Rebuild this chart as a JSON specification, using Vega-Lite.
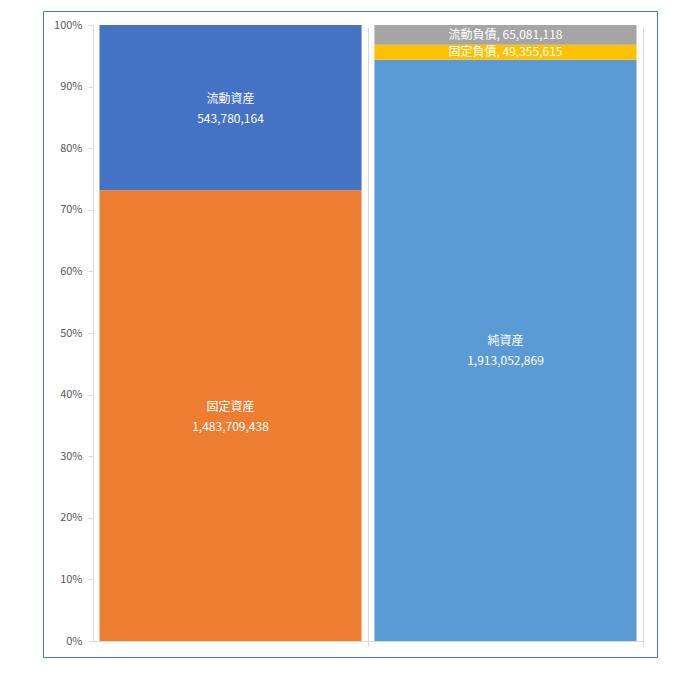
{
  "$schema": "https://vega.github.io/schema/vega-lite/v6.json",
  "width": 614,
  "height": 646,
  "autosize": {"type": "none"},
  "padding": {"left": 43, "top": 11, "right": 19, "bottom": 19},
  "background": "white",
  "config": {
    "view": {"stroke": "#4a76c6", "strokeWidth": 1},
    "font": "Noto Sans CJK JP"
  },
  "data": {
    "values": [
      {"side": "資産", "item": "固定資産", "value": 1483709438, "label": "固定資産\n1,483,709,438"},
      {"side": "資産", "item": "流動資産", "value": 543780164, "label": "流動資産\n543,780,164"},
      {"side": "負債・純資産", "item": "純資産", "value": 1913052869, "label": "純資産\n1,913,052,869"},
      {"side": "負債・純資産", "item": "固定負債", "value": 49355615, "label": "固定負債, 49,355,615"},
      {"side": "負債・純資産", "item": "流動負債", "value": 65081118, "label": "流動負債, 65,081,118"}
    ]
  },
  "transform": [
    {"window": [{"op": "row_number", "as": "rowIndex"}]}
  ],
  "encoding": {
    "x": {
      "field": "side",
      "type": "nominal",
      "sort": ["資産", "負債・純資産"],
      "scale": {"range": [50, 600], "paddingInner": 0, "paddingOuter": 0},
      "axis": {
        "title": null,
        "labels": false,
        "ticks": true,
        "tickSize": 5,
        "tickColor": "#d9d9d9",
        "domain": true,
        "domainColor": "#d9d9d9",
        "grid": true,
        "gridColor": "#d9d9d9",
        "bandPosition": 1,
        "offset": -16
      }
    },
    "y": {
      "field": "value",
      "type": "quantitative",
      "stack": "normalize",
      "scale": {"domain": [0, 1], "range": [630, 14], "nice": false},
      "axis": {
        "title": null,
        "format": ".0%",
        "values": [0, 0.1, 0.2, 0.3, 0.4, 0.5, 0.6, 0.7, 0.8, 0.9, 1],
        "grid": false,
        "offset": -50,
        "domainColor": "#d9d9d9",
        "tickColor": "#d9d9d9",
        "tickSize": 5,
        "labelPadding": 6,
        "labelColor": "#595959",
        "labelFontSize": 11,
        "labelFont": "Noto Sans CJK JP"
      }
    },
    "order": {"field": "rowIndex", "type": "quantitative", "sort": "ascending"}
  },
  "layer": [
    {
      "mark": {"type": "bar", "width": {"band": 0.953}},
      "encoding": {
        "color": {
          "field": "item",
          "type": "nominal",
          "scale": {
            "domain": ["固定資産", "流動資産", "純資産", "固定負債", "流動負債"],
            "range": ["#ED7D31", "#4472C4", "#5B9BD5", "#FFC000", "#A5A5A5"]
          },
          "legend": null
        }
      }
    },
    {
      "mark": {
        "type": "text",
        "color": "white",
        "fontSize": 12,
        "lineBreak": "\n",
        "lineHeight": 20,
        "baseline": "middle",
        "align": "center",
        "dy": -9,
        "font": "Noto Sans CJK JP"
      },
      "encoding": {
        "y": {"field": "value", "type": "quantitative", "stack": "normalize", "bandPosition": 0.5},
        "text": {"field": "label", "type": "nominal"},
        "opacity": {"condition": {"test": "datum.item === '固定負債' || datum.item === '流動負債'", "value": 0}, "value": 1}
      }
    },
    {
      "mark": {
        "type": "text",
        "color": "white",
        "fontSize": 12,
        "baseline": "middle",
        "align": "center",
        "font": "Noto Sans CJK JP"
      },
      "encoding": {
        "y": {"field": "value", "type": "quantitative", "stack": "normalize", "bandPosition": 0.5},
        "text": {"field": "label", "type": "nominal"},
        "opacity": {"condition": {"test": "datum.item === '固定負債' || datum.item === '流動負債'", "value": 1}, "value": 0}
      }
    }
  ]
}
